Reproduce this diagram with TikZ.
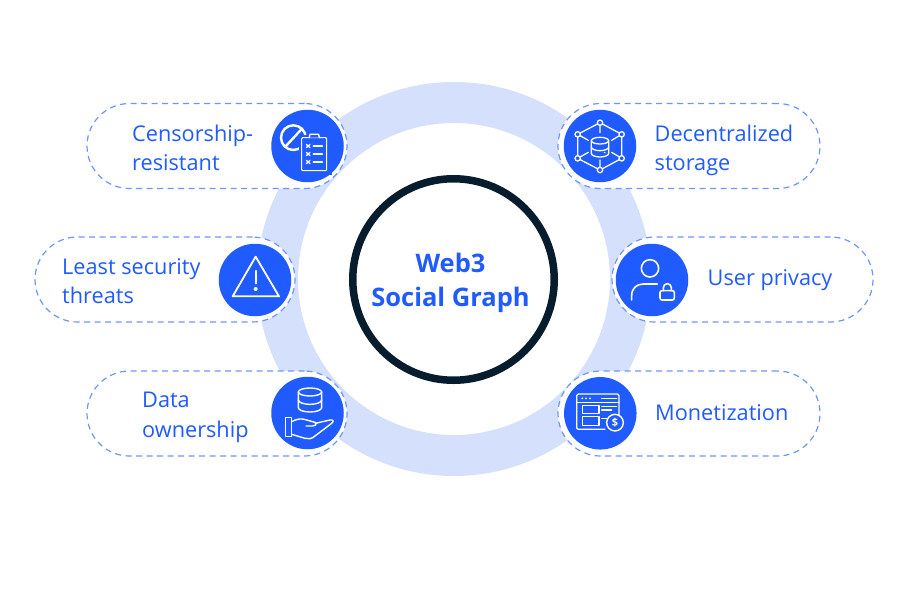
\documentclass[tikz,border=0pt]{standalone}
\usepackage{fontspec}
\setmainfont{Open Sans}
\definecolor{brand}{HTML}{1F5BFF}
\definecolor{ringc}{HTML}{D5E0FD}
\definecolor{darkc}{HTML}{071D2E}
\definecolor{dashc}{HTML}{6F96F5}
\tikzset{
  pill/.style={draw=dashc,fill=white,line width=1.2pt,dash pattern=on 6pt off 4.5pt,rounded corners=42.5pt,minimum height=85pt,inner sep=0pt,outer sep=0pt},
  badge/.style={circle,fill=brand,minimum size=72.5pt,inner sep=0pt,outer sep=0pt},
  lbl/.style={text=brand,font=\fontsize{21.7}{29.5}\selectfont,align=left,anchor=west,inner sep=0pt},
  ico/.style={draw=white,line width=1.5pt,line cap=round,line join=round},
  icon/.style={x=0.3333pt,y=-0.3333pt}
}
\begin{document}
\begin{tikzpicture}[x=1pt,y=-1pt]
\useasboundingbox (0,0) rectangle (900,600);
\fill[white] (0,0) rectangle (900,600);
% ring
\coordinate (c) at (454,279);
\fill[ringc,even odd rule] (c) circle[radius=197] (c) circle[radius=156];
% pills
\node[pill,minimum width=260pt] (p1) at (217,146) {};
\node[pill,minimum width=262pt] (p2) at (689,146) {};
\node[pill,minimum width=260pt] (p3) at (165,279.5) {};
\node[pill,minimum width=261pt] (p4) at (742.5,279.5) {};
\node[pill,minimum width=260pt] (p5) at (217,413.5) {};
\node[pill,minimum width=262pt] (p6) at (689,413.5) {};
% badges
\node[badge] (b1) at (307.5,146) {};
\node[badge] (b2) at (600,146) {};
\node[badge] (b3) at (255,280) {};
\node[badge] (b4) at (652,280) {};
\node[badge] (b5) at (307.5,413) {};
\node[badge] (b6) at (600.3,413.3) {};
% labels
\node[lbl] (t1) at (132,148) {Censorship-\\resistant};
\node[lbl] (t2) at (654.5,150.5) {Decentralized\\storage};
\node[lbl] (t3) at (62,281) {Least security\\threats};
\node[lbl] (t4) at (707.5,280) {User privacy};
\node[lbl] (t5) at (142,417.5) {Data\\ownership};
\node[lbl] (t6) at (655,413) {Monetization};
% centre
\node[circle,draw=darkc,fill=white,line width=7.5pt,minimum size=201.5pt,inner sep=0pt,outer sep=0pt] (hub) at (453.5,279.5) {};
\node[text=brand,font=\bfseries\fontsize{25.5}{34}\selectfont,align=center] (title) at (450.5,282.5) {Web3\\Social Graph};
% icon: censorship
\begin{scope}[shift={(260,100)},icon]
 \draw[ico,line width=2.4pt] (100,113) circle[radius=37];
 \draw[ico,line width=2.4pt] (76,140) -- (126,86);
 \fill[brand] (117,105) rectangle (215,225);
 \draw[ico,line width=1.1pt,rounded corners=1pt] (125,113) rectangle (200,212);
 \draw[ico,line width=1.3pt,fill=brand] (148,113) -- (150,103) -- (176,103) -- (178,113);
 \foreach \yy in {138,162,186}{
  \draw[ico,line width=1.2pt] (139,\yy-5) -- (150,\yy+5) (139,\yy+5) -- (150,\yy-5);
  \draw[ico] (160,\yy) -- (187,\yy);
 }
\end{scope}
% icon: decentralized storage
\begin{scope}[shift={(555,100)},icon]
 \draw[ico,line width=1.3pt] (135,68) -- (200,103) -- (200,175) -- (135,210) -- (68,175) -- (68,103) -- cycle;
 \draw[ico,line width=1.3pt] (135,68) -- (135,98) (135,210) -- (135,180) (68,103) -- (100,121) (200,103) -- (170,121) (68,175) -- (100,157) (200,175) -- (170,157);
 \foreach \px/\py in {135/68,200/103,200/175,135/210,68/175,68/103}
  \draw[ico,fill=brand,line width=1.3pt] (\px,\py) circle[radius=8];
 \draw[ico,line width=1.3pt] (109,122) -- (109,160) arc[start angle=180,end angle=0,x radius=26,y radius=11] -- (161,122);
 \draw[ico,line width=1.3pt] (135,122) ellipse[x radius=26,y radius=10];
 \draw[ico,line width=1.3pt] (109,141) arc[start angle=180,end angle=0,x radius=26,y radius=11];
 \draw[ico,line width=1.3pt] (148,158) -- (150,158);
\end{scope}
% icon: warning
\begin{scope}[shift={(200,235)},icon]
 \draw[ico,line width=1.8pt] (167,65) -- (98,184) -- (237,184) -- cycle;
 \draw[ico,line width=2.2pt] (167,108) -- (167,145);
 \fill[white] (167,162) circle[radius=6];
\end{scope}
% icon: user privacy
\begin{scope}[shift={(605,235)},icon]
 \draw[ico,line width=1.6pt] (135,100) circle[radius=26];
 \draw[ico,line width=1.6pt] (80,195) -- (80,182) .. controls (80,160) and (95,147) .. (115,147) -- (157,147);
 \draw[ico,line width=1.6pt,rounded corners=2pt] (165,167) rectangle (208,195);
 \draw[ico,line width=1.6pt] (175,167) -- (175,158) arc[start angle=180,end angle=360,radius=12] -- (199,167);
\end{scope}
% icon: data ownership
\begin{scope}[shift={(260,370)},icon]
 \draw[ico,line width=1.4pt] (115,66) -- (115,113) arc[start angle=180,end angle=0,x radius=35,y radius=13] -- (185,66);
 \draw[ico,line width=1.4pt] (150,66) ellipse[x radius=35,y radius=12];
 \draw[ico,line width=1.4pt] (115,90) arc[start angle=180,end angle=0,x radius=35,y radius=13];
 \draw[ico,line width=1.4pt] (76,143) rectangle (95,200);
 \draw[ico,line width=1.4pt] (95,155) .. controls (115,145) and (125,145) .. (140,150) -- (165,157) .. controls (172,162) and (165,170) .. (158,168) -- (138,168);
 \draw[ico,line width=1.4pt] (166,160) -- (210,150) .. controls (220,148) and (222,155) .. (215,160) -- (165,198) .. controls (155,207) and (145,208) .. (135,205) -- (95,193);
\end{scope}
% icon: monetization
\begin{scope}[shift={(555,370)},icon]
 \draw[ico,line width=1.2pt,rounded corners=1.5pt] (150,178) -- (65,178) -- (65,72) -- (192,72) -- (192,135);
 \draw[ico,line width=1.2pt] (65,97) -- (192,97);
 \foreach \dx in {82,93,105} \fill[white] (\dx,85) circle[radius=3.2];
 \draw[ico,line width=1.4pt] (140,85) -- (185,85);
 \draw[ico,line width=1.2pt] (82,107) rectangle (132,130);
 \draw[ico,line width=1.2pt] (82,140) rectangle (132,167);
 \draw[ico,line width=1.2pt] (140,110) -- (185,110) (140,120) -- (170,120) (140,145) -- (155,145);
 \draw[ico,fill=brand,line width=1.4pt] (180,158) circle[radius=25];
 \node[text=white,inner sep=0pt,font=\bfseries\fontsize{11}{11}\selectfont] (dollar) at (180,158) {\$};
\end{scope}
\end{tikzpicture}
\end{document}
